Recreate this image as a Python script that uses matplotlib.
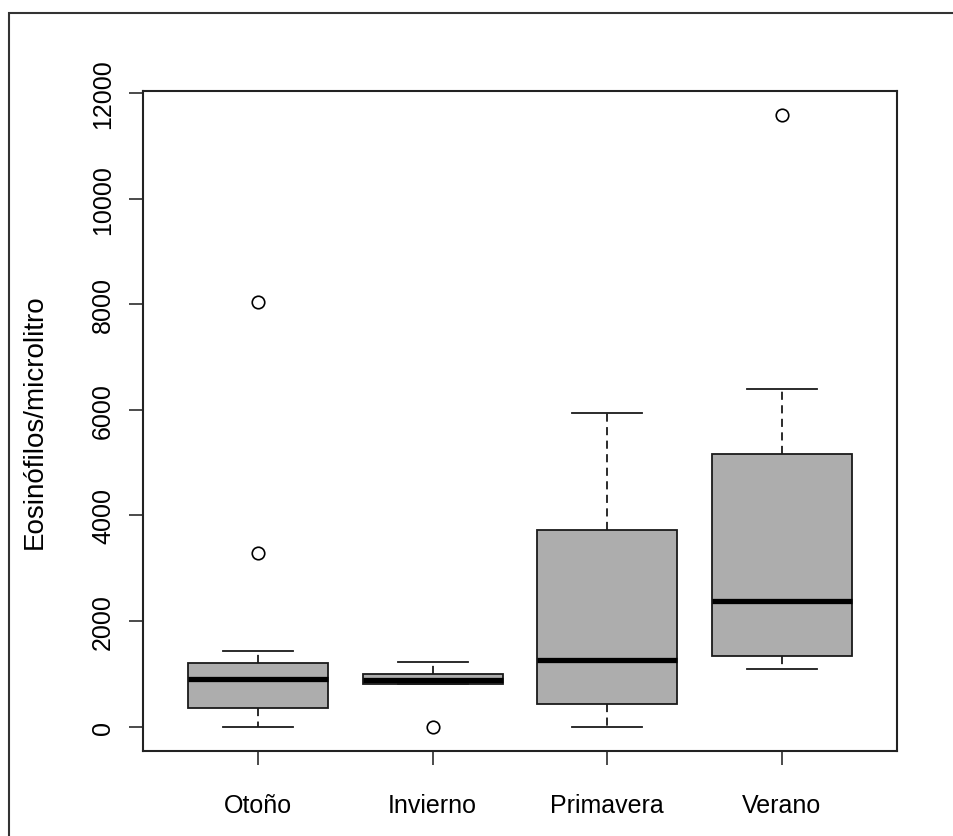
import numpy as np
import matplotlib.pyplot as plt
from matplotlib.patches import Rectangle

plt.rcParams['font.family'] = ['Liberation Sans', 'DejaVu Sans']

# -------------------------------------------------
# DATA (five-number summaries)
# -------------------------------------------------

seasons = ["Otoño", "Invierno", "Primavera", "Verano"]

whisker_low = [0, 806, 0, 1100]
q1 = [349, 806, 425, 1328]
median = [901, 890, 1264, 2370]
q3 = [1206, 1003, 3728, 5158]
whisker_high = [1429, 1232, 5944, 6389]

outliers = [[3280, 8050], [0], [], [11580]]

ylabel = "Eosinófilos/microlitro"
yticks = [0, 2000, 4000, 6000, 8000, 10000, 12000]

# -------------------------------------------------
# BUILD STATS
# -------------------------------------------------

stats = []
for i in range(len(seasons)):
    stats.append({
        "whislo": whisker_low[i],
        "q1": q1[i],
        "med": median[i],
        "q3": q3[i],
        "whishi": whisker_high[i],
        "fliers": outliers[i],
        "label": seasons[i],
    })

# -------------------------------------------------
# PLOT
# -------------------------------------------------

fig = plt.figure(figsize=(9.54, 8.37), dpi=100)
ax = fig.add_axes([143 / 954, 1 - 752 / 837, (897 - 143) / 954, (752 - 92) / 837])

line_col = "#1a1a1a"

ax.bxp(
    stats,
    widths=0.8,
    patch_artist=True,
    boxprops=dict(facecolor="#adadad", edgecolor=line_col, linewidth=1.3),
    medianprops=dict(color="black", linewidth=3.8, solid_capstyle="butt"),
    whiskerprops=dict(color=line_col, linewidth=1.3, linestyle=(0, (4.5, 3))),
    capprops=dict(color=line_col, linewidth=1.3),
    flierprops=dict(marker="o", markerfacecolor="none", markeredgecolor="black",
                    markersize=9, markeredgewidth=1.2, linestyle="none"),
)

# R style axis limits (4% padding)
all_vals = whisker_low + whisker_high + [v for o in outliers for v in o]
lo, hi = min(all_vals), max(all_vals)
pad = 0.04 * (hi - lo)
ax.set_ylim(lo - pad, hi + pad)
n = len(seasons)
ax.set_xlim(0.5 - 0.04 * n, n + 0.5 + 0.04 * n)

ax.set_yticks(yticks)
ax.set_yticklabels([str(t) for t in yticks], rotation=90, va="center")
ax.set_xticks(range(1, n + 1))
ax.set_xticklabels(seasons)

ax.tick_params(axis="both", direction="out", length=10, width=1.1,
               color=line_col, labelsize=18)
ax.tick_params(axis="y", pad=10)
ax.tick_params(axis="x", pad=20)

for spine in ax.spines.values():
    spine.set_linewidth(1.5)
    spine.set_color("#222222")

ax.set_ylabel(ylabel, fontsize=20)
ax.yaxis.set_label_coords((35 - 143) / (897 - 143), 0.5)
ax.yaxis.label.set_verticalalignment("center")

# outer frame around the device region
fig.patches.append(Rectangle((9 / 954, -0.1), 1.2, 1.1 - 14 / 837,
                             transform=fig.transFigure, fill=False,
                             edgecolor="#333333", linewidth=1.5))

fig.savefig("out.png", dpi=100)
